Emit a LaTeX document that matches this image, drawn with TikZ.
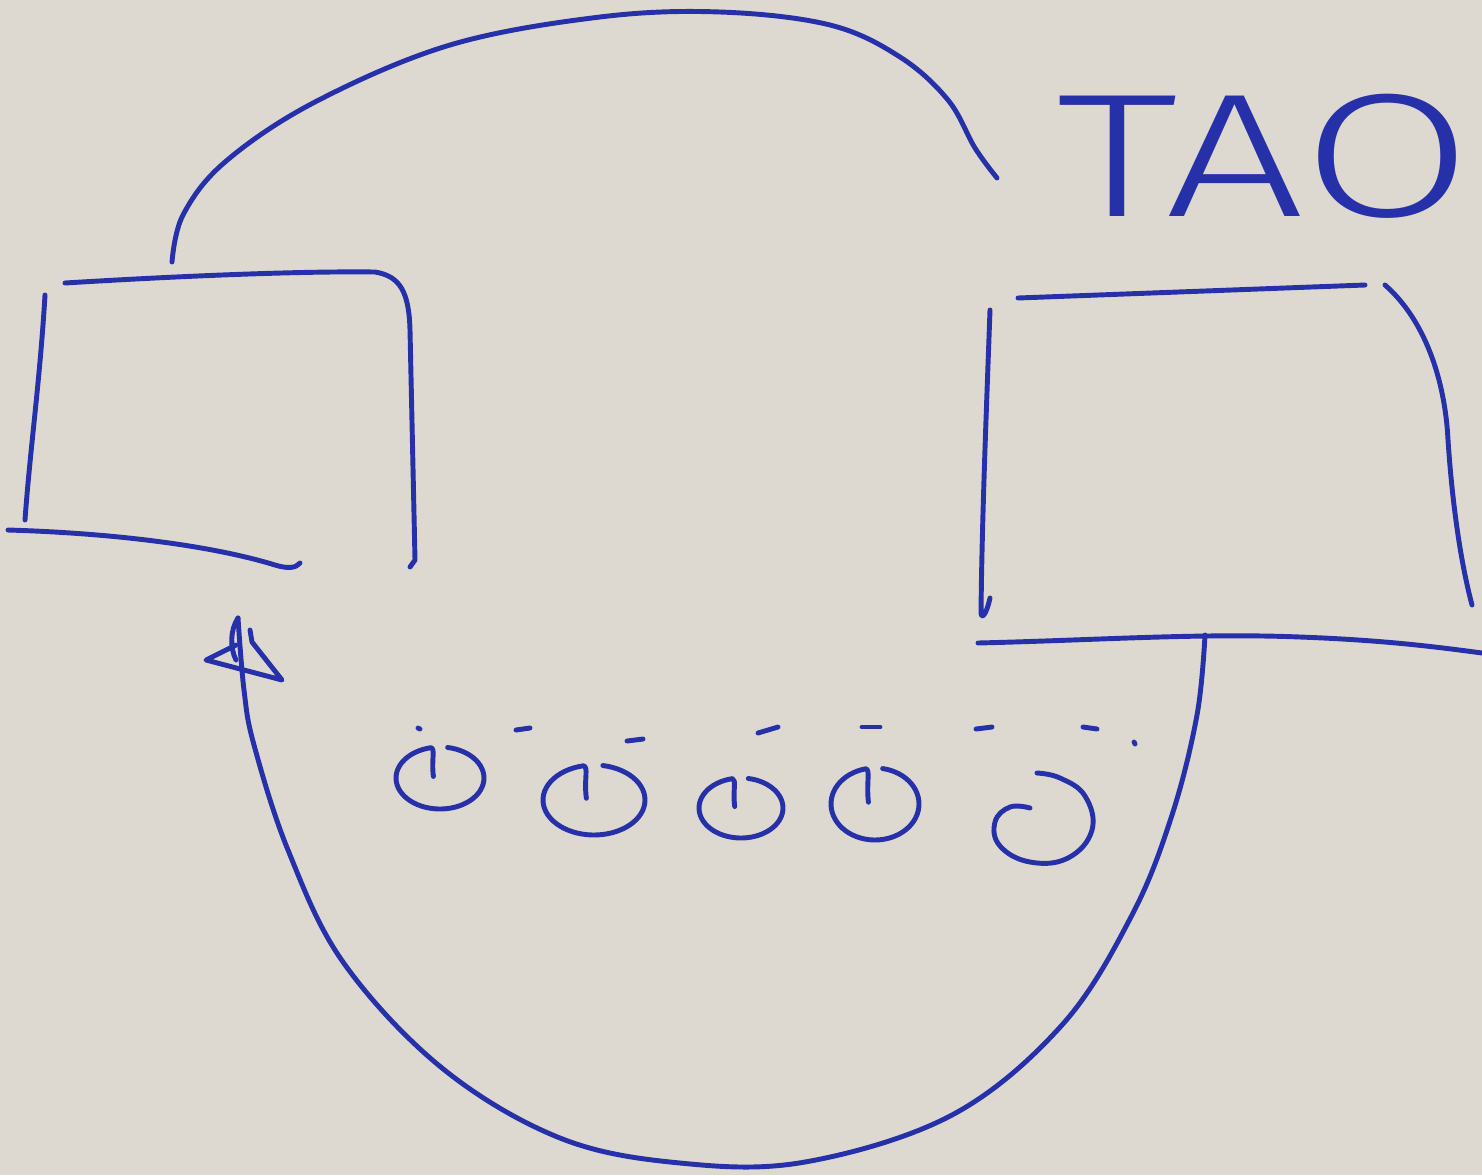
\documentclass[tikz,border=0pt]{standalone}
\usepackage{fontspec}
\setmainfont{Liberation Sans}
\newfontfamily\taofont{Fira Sans Light}
\definecolor{board}{RGB}{221,217,209}
\definecolor{ink}{RGB}{38,48,168}
\newcommand\inkcurl[4]{%
  \draw[pen] ({#1-0.15*#3},{#2-0.05*#4}) .. controls ({#1-0.2*#3},{#2-0.6*#4}) and ({#1-0.1*#3},{#2-0.95*#4}) .. ({#1-0.21*#3},{#2-0.98*#4})
    -- plot[domain=102:440,samples=60,variable=\t] ({#1+#3*cos(\t)},{#2-#4*sin(\t)});}
\begin{document}
\begin{tikzpicture}[x=0.01cm,y=-0.01cm,
  pen/.style={draw=ink,line width=1.4pt,line cap=round,line join=round},
  label/.style={text=ink,font=\taofont\fontsize{50}{50}\selectfont,inner sep=0pt,xscale=1.4}]
\useasboundingbox (0,0) rectangle (1482,1175);
\clip (0,0) rectangle (1482,1175);
\fill[board] (0,0) rectangle (1482,1175);

% left box
\coordinate (Ltop) at (172,262);
\coordinate (Larrow) at (238,618);
\draw[pen] (65,283) .. controls (180,276) and (300,271) .. (375,272)
  .. controls (400,276) and (409,292) .. (410,330) -- (415,560) -- (410,567);
\draw[pen] (45,295) .. controls (40,380) and (30,450) .. (25,520);
\draw[pen] (8,530) .. controls (110,533) and (210,545) .. (275,565) .. controls (288,569) and (296,568) .. (300,563);

% right box
\coordinate (Rbot) at (1205,635);
\coordinate (Rtop) at (997,178);
\draw[pen] (1018,298) -- (1365,285);
\draw[pen] (990,310) .. controls (986,420) and (982,520) .. (981,612) .. controls (981,620) and (986,616) .. (990,598);
\draw[pen] (978,643) .. controls (1100,640) and (1200,633) .. (1300,637) .. controls (1380,640) and (1430,646) .. (1482,653);
\draw[pen] (1385,285) .. controls (1425,320) and (1445,380) .. (1448,440) .. controls (1452,500) and (1460,560) .. (1472,605);

% top connector
\draw[pen] plot[smooth,tension=0.6] coordinates {(Ltop) (183,215) (225,162) (315,102) (450,45) (600,17) (720,12) (830,25) (900,57) (948,100) (975,148) (Rtop)};

% bottom connector
\draw[pen] plot[smooth,tension=0.6] coordinates {(Rbot) (1197,715) (1172,815) (1132,915) (1062,1025) (952,1115) (805,1162) (680,1163) (560,1138) (442,1068) (343,962) (288,850) (254,745) (244,690) (Larrow)};
% arrowhead
\draw[pen] (Larrow) .. controls (230,630) and (230,648) .. (236,660);
\draw[pen] (236,645) -- (206,660) -- (282,680) -- (252,642) -- (250,630);

% title
\node[label,anchor=base west] (tao) at (1055,216) {TAO};

% dashes
\draw[pen] (418,728) -- (420,729);
\draw[pen] (516,730) -- (530,728);
\draw[pen] (627,741) -- (643,739);
\draw[pen] (758,733) -- (778,727);
\draw[pen] (862,727) -- (880,727);
\draw[pen] (976,729) -- (992,727);
\draw[pen] (1083,727) -- (1097,729);
\draw[pen] (1134,742) -- (1135,744);

% curls
\inkcurl{440}{778}{44}{31}
\inkcurl{594}{800}{51}{35}
\inkcurl{741}{808}{42}{30}
\inkcurl{875}{804}{44}{36}
\draw[pen] plot[smooth,tension=0.7] coordinates {(1030,808) (1010,807) (995,822) (1000,846) (1030,862) (1068,858) (1092,830) (1085,796) (1060,778) (1037,773)};
\end{tikzpicture}
\end{document}
